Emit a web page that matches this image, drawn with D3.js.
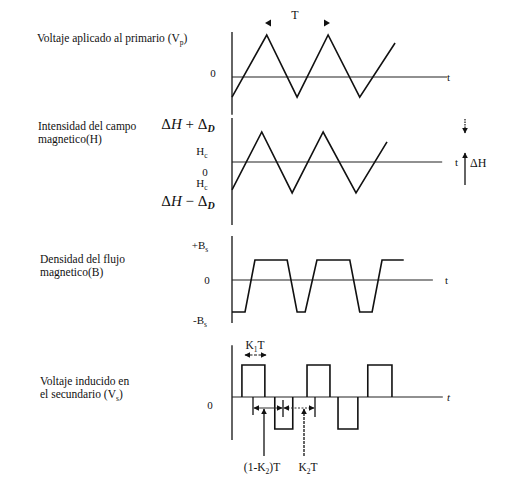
<!DOCTYPE html>
<html><head><meta charset="utf-8">
<script src="https://cdn.jsdelivr.net/npm/d3@7"></script>
<style>
body{margin:0;background:#fff}
text{font-family:"Liberation Serif","Times New Roman",serif;fill:#111}
</style>
</head><body>
<svg id="c" width="505" height="485"></svg>
<script>
// ---------- DATA ----------
// time in units of the period T
const vpTime  = [0, 0.56, 1.05, 1.55, 2.06, 2.63];
const vpValue = [-0.48, 1, -0.48, 1, -0.48, 0.81];

const hTime  = [0, 0.48, 0.97, 1.47, 2.0, 2.5];
const hValue = [-0.93, 1, -1.03, 1, -1.03, 0.67];

const bTime  = [0, 0.21, 0.37, 0.89, 1.05, 1.18, 1.37, 1.90, 2.06, 2.26, 2.42, 2.77];
const bValue = [-1.6, -1.6, 1, 1, -1.6, -1.6, 1, 1, -1.6, -1.6, 1, 1];

const vsPulseStart = [0.16, 0.69, 1.21, 1.71, 2.19];
const vsPulseEnd   = [0.53, 0.98, 1.58, 2.03, 2.58];
const vsPulseValue = [1, -1, 1, -1, 1];

// title lines: each line is a list of [text, kind]
const panelTitles = [
  [[["Voltaje aplicado al primario (V", ""], ["p", "sub"], [")", "up"]]],
  [[["Intensidad del campo", ""]], [["magnetico(H)", ""]]],
  [[["Densidad del flujo", ""]], [["magnetico(B)", ""]]],
  [[["Voltaje inducido en", ""]], [["el secundario (V", ""], ["s", "sub"], [")", "up"]]]
];
const tickLabels = [
  [{v: 0.1, parts: [["0", ""]]}],
  [{v: 1.23, parts: [["Δ", "big"], ["H", "bigi"], [" + Δ", "big"], ["D", "subi"]]},
   {v: 0.35, parts: [["H", ""], ["c", "sub"]]},
   {v: -0.33, parts: [["0", ""]]},
   {v: -0.72, parts: [["H", ""], ["c", "sub"]]},
   {v: -1.33, parts: [["Δ", "big"], ["H", "bigi"], [" − Δ", "big"], ["D", "subi"]]}],
  [{v: 1.75, parts: [["+B", ""], ["s", "sub"]]},
   {v: 0, parts: [["0", ""]]},
   {v: -2.0, parts: [["-B", ""], ["s", "sub"]]}],
  [{v: -0.25, parts: [["0", ""]]}]
];
const tickLabelX = [213, [188, 202, 205, 202, 188], [200, 207, 200], 210];
const timeLabel = ["t", "t", "t", "t"];

// ---------- LAYOUT ----------
const svg = d3.select("#c");
const x = d3.scaleLinear().domain([0, 1]).range([232, 294]);
const panels = [
  {zero: 77, unit: 42, axis: [-0.9, 1.07], end: 3.47, tx: 447, titleY: [38], titleX: 37},
  {zero: 162, unit: 30, axis: [-2.1, 1.47], end: 3.39, tx: 455, titleY: [126, 139], titleX: 38},
  {zero: 280, unit: 20, axis: [-2.15, 2.2], end: 3.24, tx: 445, titleY: [259, 272], titleX: 40},
  {zero: 397, unit: 32, axis: [-1.34, 1.62], end: 3.4, tx: 447, titleY: [381, 394], titleX: 40}
];
panels.forEach(p => { p.y = d3.scaleLinear().domain([0, 1]).range([p.zero, p.zero - p.unit]); });

// markers
const defs = svg.append("defs");
defs.append("marker").attr("id", "ah").attr("viewBox", "0 0 10 10").attr("refX", 9).attr("refY", 5)
  .attr("markerWidth", 6).attr("markerHeight", 6).attr("markerUnits", "userSpaceOnUse").attr("orient", "auto-start-reverse")
  .append("path").attr("d", "M0,0L10,5L0,10z").attr("fill", "#111");

function addParts(t, parts) {
  parts.forEach(([s, k]) => {
    const ts = t.append("tspan").text(s);
    if (k === "sub") ts.attr("font-size", 7.5).attr("dy", 3);
    if (k === "up") ts.attr("dy", -3);
    if (k === "big") ts.attr("font-size", 15);
    if (k === "bigi") ts.attr("font-size", 15).attr("font-style", "italic");
    if (k === "subi") ts.attr("font-size", 10).attr("font-style", "italic").attr("font-weight", "bold").attr("dy", 3);
  });
}

// titles
panels.forEach((p, i) => {
  panelTitles[i].forEach((lineParts, li) => {
    const t = svg.append("text").attr("x", p.titleX).attr("y", p.titleY[li]).attr("dy", "0.35em").attr("font-size", 11.5);
    addParts(t, lineParts);
  });
});

// axes, zero lines, tick labels, t labels
panels.forEach((p, i) => {
  svg.append("line").attr("x1", x(0)).attr("x2", x(0)).attr("y1", p.y(p.axis[1])).attr("y2", p.y(p.axis[0]))
    .attr("stroke", "#111").attr("stroke-width", 1.3);
  svg.append("line").attr("x1", x(0)).attr("x2", x(p.end)).attr("y1", p.y(0)).attr("y2", p.y(0))
    .attr("stroke", "#222").attr("stroke-width", 1.1);
  svg.append("text").attr("x", p.tx).attr("y", p.y(0)).attr("dy", "0.35em").attr("font-size", 11)
    .attr("font-style", i === 3 ? "italic" : "normal").text(timeLabel[i]);
  tickLabels[i].forEach((tl, j) => {
    const cx = Array.isArray(tickLabelX[i]) ? tickLabelX[i][j] : tickLabelX[i];
    const t = svg.append("text").attr("x", cx).attr("y", p.y(tl.v)).attr("dy", "0.35em")
      .attr("text-anchor", "middle").attr("font-size", 11);
    addParts(t, tl.parts);
  });
});

const line = (p) => d3.line().x(d => x(d[0])).y(d => p.y(d[1]));
const curve = (p, ts, vs) => svg.append("path").attr("d", line(p)(ts.map((t, i) => [t, vs[i]])))
  .attr("fill", "none").attr("stroke", "#111").attr("stroke-width", 1.6).attr("stroke-linejoin", "miter");

curve(panels[0], vpTime, vpValue);
curve(panels[1], hTime, hValue);
curve(panels[2], bTime, bValue);
// secondary voltage pulses
vsPulseStart.forEach((s, i) => {
  const e = vsPulseEnd[i], v = vsPulseValue[i];
  curve(panels[3], [s, s, e, e], [0, v, v, 0]);
});

// ---------- ANNOTATIONS ----------
// Panel 1: period T
svg.append("text").attr("x", 295).attr("y", 15).attr("dy", "0.35em").attr("text-anchor", "middle")
  .attr("font-size", 12).attr("font-family", "Liberation Sans, Arial, sans-serif").text("T");
svg.append("path").attr("d", "M265,23L271,19.5L271,26.5z").attr("fill", "#111");
svg.append("path").attr("d", "M330,23L324,19.5L324,26.5z").attr("fill", "#111");

// Panel 2: ΔH arrows
svg.append("line").attr("x1", 465).attr("x2", 465).attr("y1", 119).attr("y2", 133)
  .attr("stroke", "#111").attr("stroke-width", 1.2).attr("stroke-dasharray", "1.5,1").attr("marker-end", "url(#ah)");
svg.append("line").attr("x1", 465).attr("x2", 465).attr("y1", 185).attr("y2", 153)
  .attr("stroke", "#111").attr("stroke-width", 1.3).attr("marker-end", "url(#ah)");
svg.append("text").attr("x", 470).attr("y", 163).attr("dy", "0.35em").attr("font-size", 12).text("ΔH");

// Panel 4: K1T
svg.append("text").attr("x", 255).attr("y", 345).attr("dy", "0.35em").attr("text-anchor", "middle").attr("font-size", 11.5)
  .call(t => addParts(t, [["K", ""], ["1", "sub"], ["T", "up"]]));
svg.append("line").attr("x1", 245).attr("x2", 266).attr("y1", 355).attr("y2", 355).attr("stroke", "#111").attr("stroke-width", 1)
  .attr("stroke-dasharray", "3,1.5").attr("marker-start", "url(#ah)").attr("marker-end", "url(#ah)");
// dimension lines
[[253, 397, 415], [283, 400, 417], [315, 397, 417]].forEach(d => {
  svg.append("line").attr("x1", d[0]).attr("x2", d[0]).attr("y1", d[1]).attr("y2", d[2]).attr("stroke", "#111").attr("stroke-width", 1.3);
});
svg.append("line").attr("x1", 254).attr("x2", 282).attr("y1", 408).attr("y2", 408).attr("stroke", "#333").attr("stroke-width", 1)
  .attr("marker-start", "url(#ah)").attr("marker-end", "url(#ah)");
svg.append("line").attr("x1", 284).attr("x2", 314).attr("y1", 408).attr("y2", 408).attr("stroke", "#333").attr("stroke-width", 1)
  .attr("stroke-dasharray", "2,1.5").attr("marker-start", "url(#ah)").attr("marker-end", "url(#ah)");
svg.append("line").attr("x1", 264).attr("x2", 264).attr("y1", 456).attr("y2", 409).attr("stroke", "#111").attr("stroke-width", 1.3).attr("marker-end", "url(#ah)");
svg.append("line").attr("x1", 304).attr("x2", 304).attr("y1", 456).attr("y2", 409).attr("stroke", "#111").attr("stroke-width", 1.3)
  .attr("stroke-dasharray", "3,1").attr("marker-end", "url(#ah)");
svg.append("text").attr("x", 262).attr("y", 467).attr("dy", "0.35em").attr("text-anchor", "middle").attr("font-size", 11.5)
  .call(t => addParts(t, [["(1-K", ""], ["2", "sub"], [")T", "up"]]));
svg.append("text").attr("x", 308).attr("y", 467).attr("dy", "0.35em").attr("text-anchor", "middle").attr("font-size", 11.5)
  .call(t => addParts(t, [["K", ""], ["2", "sub"], ["T", "up"]]));
</script>
</body></html>
